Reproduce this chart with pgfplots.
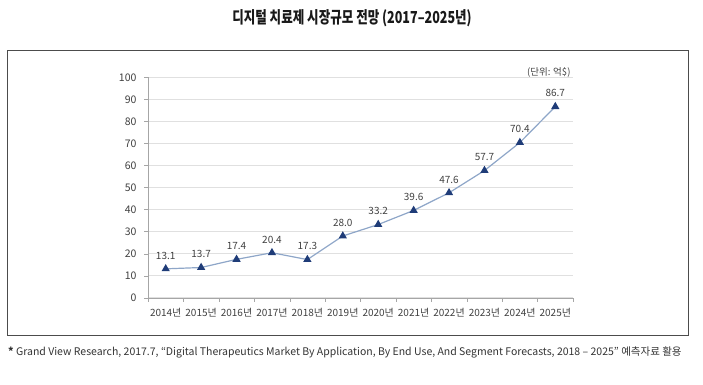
\documentclass[border=0pt]{standalone}
\usepackage{fontspec}
\setmainfont{Noto Sans CJK KR}
\usepackage{pgfplots}
\pgfplotsset{compat=1.18}
\definecolor{linec}{HTML}{8EA6C8}
\definecolor{markc}{HTML}{1F3C78}
\definecolor{gridc}{HTML}{E0E0E0}
\definecolor{axc}{HTML}{A6A6A6}
\definecolor{txt}{HTML}{404040}
\begin{document}
\begin{tikzpicture}[x=1pt,y=1pt]
\path (0,0) rectangle (703,384);
\node[font=\fontsize{16.5}{18}\selectfont\bfseries, text=black!90] at (352,366) {\scalebox{0.76}[1]{디지털 치료제 시장규모 전망 (2017–2025년)}};
\draw[draw=black!70, line width=0.9pt] (7,49) rectangle (688,334);
\begin{axis}[
  at={(148pt,86.3pt)}, anchor=south west,
  scale only axis, width=425pt, height=220.4pt,
  xmin=-0.5, xmax=11.5, ymin=0, ymax=100,
  axis lines=left, axis line style={-, draw=axc},
  ytick={0,10,...,100},
  xtick={0,...,11},
  xticklabels={2014년,2015년,2016년,2017년,2018년,2019년,2020년,2021년,2022년,2023년,2024년,2025년},
  minor xtick={-0.5,0.5,...,11.5},
  major x tick style={draw=none},
  minor x tick style={draw=axc},
  y tick style={draw=axc},
  tick align=outside,
  major tick length=4pt, minor tick length=4pt,
  ymajorgrids, grid style={draw=gridc, line width=0.8pt},
  tick label style={font=\fontsize{10.5}{12}\selectfont, text=txt},
  xticklabel style={font=\fontsize{10}{12}\selectfont, yshift=-3pt},
  yticklabel style={xshift=-4pt},
  /pgf/number format/assume math mode=true,
  clip=false,
  nodes near coords,
  every node near coord/.append style={font=\fontsize{10}{11}\selectfont, text=txt, inner sep=0pt, yshift=9pt, /pgf/number format/fixed, /pgf/number format/fixed zerofill, /pgf/number format/precision=1},
]
\addplot[color=linec, line width=1.2pt, mark=triangle*, mark size=3.6pt, mark options={fill=markc, draw=markc}] coordinates {
(0,13.1)(1,13.7)(2,17.4)(3,20.4)(4,17.3)(5,28.0)(6,33.2)(7,39.6)(8,47.6)(9,57.7)(10,70.4)(11,86.7)};
\end{axis}
\node[anchor=east, font=\fontsize{9.5}{10}\selectfont, text=txt] at (574,312) {(단위: 억\$)};
\node[anchor=west, font=\fontsize{10.5}{12}\selectfont, text=black!80, inner sep=0pt] at (8,32) {\textbf{*} Grand View Research, 2017.7, “Digital Therapeutics Market By Application, By End Use, And Segment Forecasts, 2018 – 2025” 예측자료 활용};
\end{tikzpicture}
\end{document}
